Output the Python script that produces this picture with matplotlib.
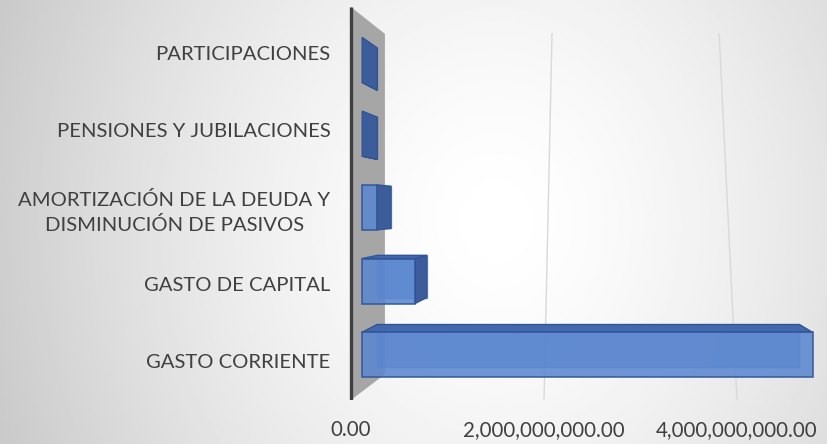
import numpy as np
import matplotlib.pyplot as plt
from matplotlib.patches import Polygon
from matplotlib.ticker import FuncFormatter

categorias = ['GASTO CORRIENTE', 'GASTO DE CAPITAL',
              'AMORTIZACIÓN DE LA DEUDA Y\nDISMINUCIÓN DE PASIVOS',
              'PENSIONES Y JUBILACIONES', 'PARTICIPACIONES']
montos = [4.88e9, 0.574e9, 0.16e9, 0.004e9, 0.003e9]
ticks = [0, 2e9, 4e9]

plt.rcParams['font.family'] = ['Lato', 'DejaVu Sans']
gris = '#404040'

fig = plt.figure(figsize=(8.27, 4.44), dpi=100)

# fondo con degradado
bg = fig.add_axes([0, 0, 1, 1], zorder=-10)
xx, yy = np.meshgrid(np.linspace(0, 1, 400), np.linspace(0, 1, 200))
d = np.sqrt(((xx - 0.6) / 0.6) ** 2 + ((yy - 0.5) / 1.3) ** 2)
bg.imshow(1 - 0.19 * np.clip(d, 0, 1.2) ** 1.5, cmap='gray', vmin=0, vmax=1,
          extent=[0, 1, 0, 1], aspect='auto', origin='lower')
bg.axis('off')

ax = fig.add_axes([340/827, 44/444, 487/827, 400/444])
ax.set_xlim(-1.14e8, 4.933e9)
ax.set_ylim(-0.5, 4.691)
ax.patch.set_visible(False)
for s in ax.spines.values():
    s.set_visible(False)

# perspectiva sencilla hacia un punto de fuga
vx, vy = 2.622e9, 2.0
def proj(x, y, k):
    return vx + (x - vx) * k, vy + (y - vy) * k

y_top, y_bot = 4.6, -0.5
k_pared, k1, k2 = 0.866, 0.957, 0.897

pared = [(0, y_bot), (0, y_top), proj(0, y_top, k_pared), proj(0, y_bot, k_pared)]
ax.add_patch(Polygon(pared, closed=True, facecolor='#a6a6a6', edgecolor='none', zorder=1))
ax.plot([0, 0], [y_bot, y_top], color=gris, lw=2.4, zorder=2, solid_capstyle='butt')

for v in ticks[1:]:
    x0, y0 = proj(v, y_top, k_pared)
    ax.plot([x0, v], [y0, y_bot], color='#d9d9d9', lw=1, zorder=1)

h = 0.305
for c, v in enumerate(montos):
    esq = [(0, c - h), (v, c - h), (v, c + h), (0, c + h)]
    F = [proj(x, y, k1) for x, y in esq]
    B = [proj(x, y, k2) for x, y in esq]
    ax.add_patch(Polygon(B, closed=True, facecolor='#4a72bb', edgecolor='#3d68b8',
                         lw=1, alpha=0.6, zorder=3))
    if c + h < vy:
        ax.add_patch(Polygon([F[3], F[2], B[2], B[3]], closed=True, facecolor='#4468ad',
                             edgecolor='#2f5597', lw=1, zorder=4))
    if c - h > vy:
        ax.add_patch(Polygon([F[0], F[1], B[1], B[0]], closed=True, facecolor='#4468ad',
                             edgecolor='#2f5597', lw=1, zorder=4))
    if v < vx:
        ax.add_patch(Polygon([F[1], F[2], B[2], B[1]], closed=True, facecolor='#3d5d9a',
                             edgecolor='#2f5597', lw=1, zorder=4))
    if v > 1e7:
        ax.add_patch(Polygon(F, closed=True, facecolor='#5b87d0', edgecolor='#2f5597',
                             lw=1.2, alpha=0.88, zorder=5))

ax.set_xticks(ticks)
ax.xaxis.set_major_formatter(FuncFormatter(lambda v, _: f'{v:,.2f}'))
ax.set_yticks(range(len(categorias)), categorias)
ax.tick_params(axis='x', length=0, pad=14.5, labelsize=14.8, labelcolor=gris)
ax.tick_params(axis='y', length=0, pad=7, labelsize=14.6, labelcolor=gris)
for t in ax.get_yticklabels():
    t.set_multialignment('center')
    t.set_linespacing(1.5)

fig.savefig('out.png', dpi=100)
